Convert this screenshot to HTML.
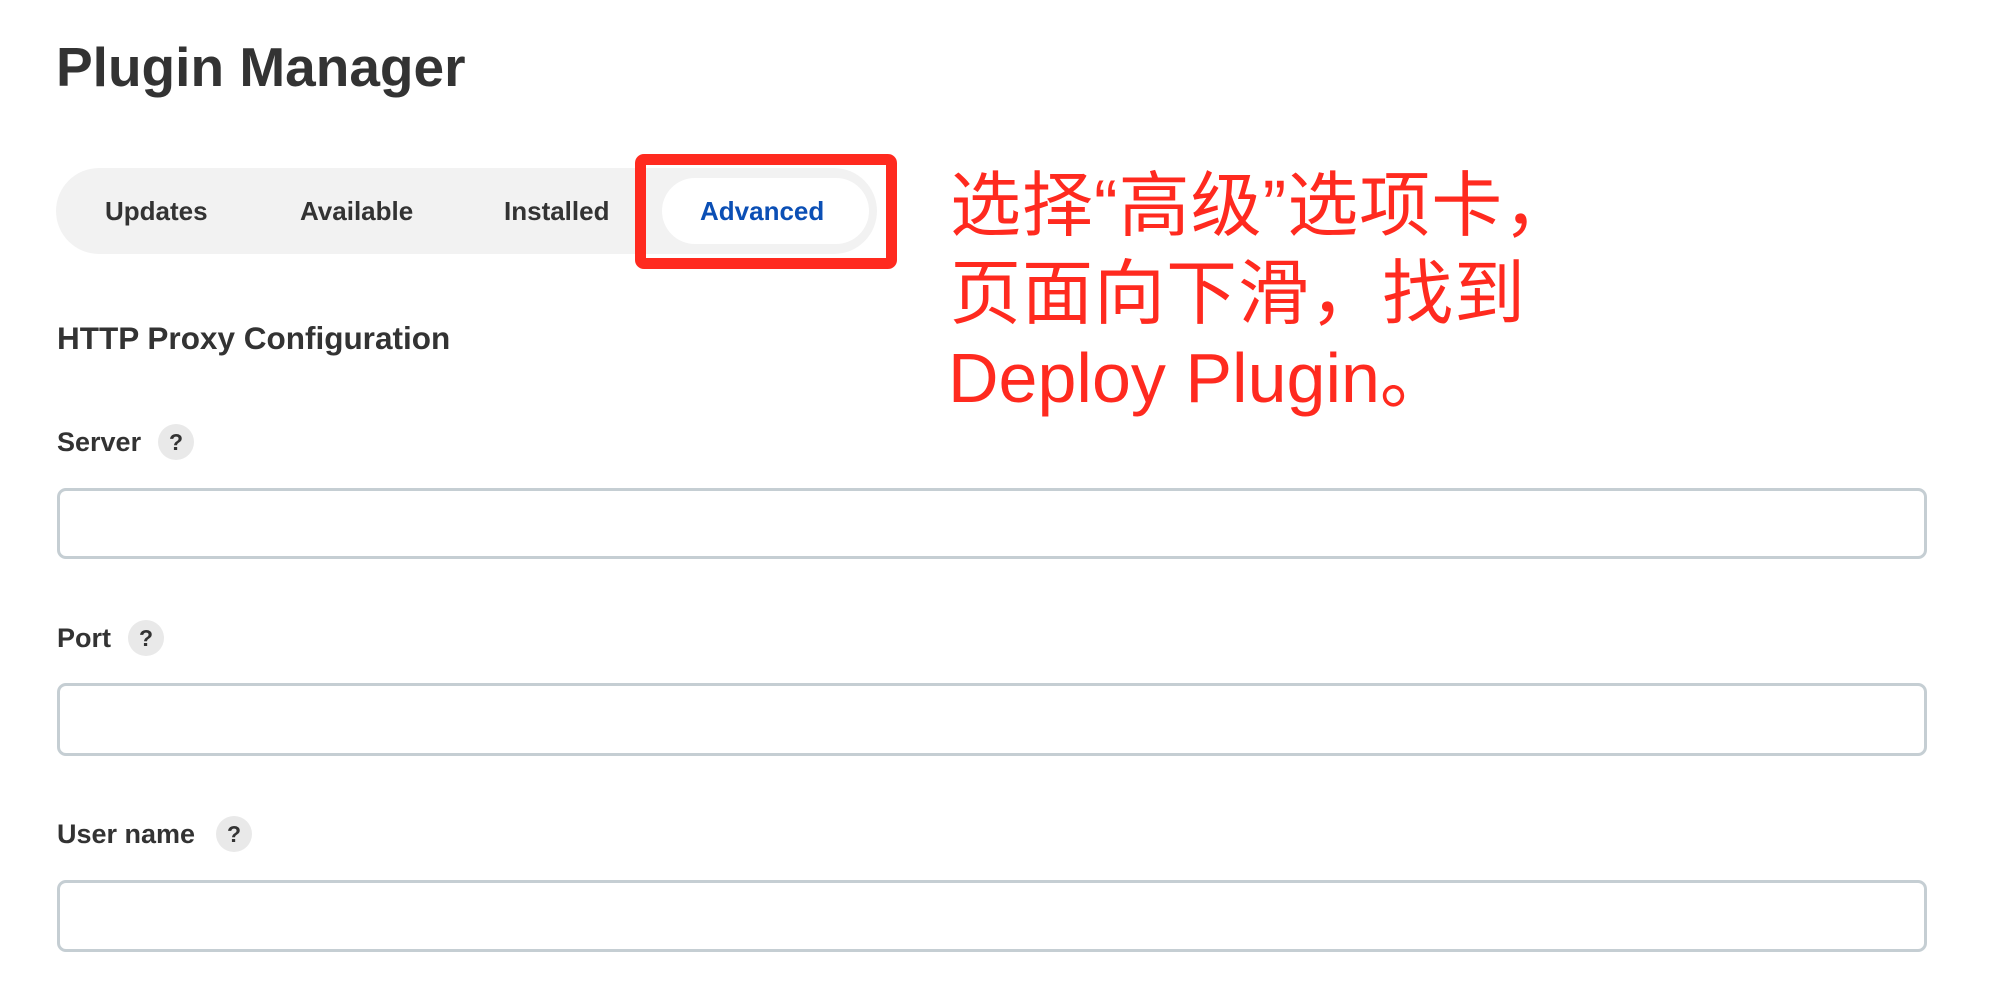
<!DOCTYPE html>
<html><head><meta charset="utf-8"><style>
body{margin:0;width:1990px;height:986px;background:#fff;position:relative;overflow:hidden;font-family:"Liberation Sans",Arial,sans-serif;color:#333;}
.a{position:absolute;white-space:nowrap;}
.b{font-weight:bold;}
.q{position:absolute;width:36px;height:36px;border-radius:50%;background:#e9e9e9;color:#333;font-weight:bold;font-size:23px;line-height:36px;text-align:center;}
.in{position:absolute;left:57px;width:1870px;border:3px solid #c5ced3;border-radius:9px;box-sizing:border-box;}
.r{color:#ff2a1f;font-family:"Liberation Sans","Noto Sans CJK SC",sans-serif;font-size:71px;line-height:88px;letter-spacing:1px;}
</style></head><body>
<div class="a b" style="left:56px;top:35px;font-size:55px;">Plugin Manager</div>
<div class="a" style="left:56px;top:168px;width:821px;height:86px;border-radius:43px;background:#f2f2f2;"></div>
<div class="a" style="left:662px;top:178px;width:207px;height:66px;border-radius:33px;background:#fff;"></div>
<div class="a b" style="left:105px;top:196px;font-size:26px;">Updates</div>
<div class="a b" style="left:300px;top:196px;font-size:26px;">Available</div>
<div class="a b" style="left:504px;top:196px;font-size:26px;">Installed</div>
<div class="a b" style="left:700px;top:196px;font-size:26px;color:#0b4fb5;">Advanced</div>
<div class="a" style="left:635px;top:154px;width:262px;height:115px;border:11px solid #ff2a1f;border-radius:9px;box-sizing:border-box;"></div>
<div class="a r" style="left:950px;top:163px;">选择“高级”选项卡，</div>
<div class="a r" style="left:950px;top:251px;">页面向下滑，找到</div>
<div class="a r" style="left:948px;top:334px;font-size:70px;letter-spacing:0;">Deploy Plugin。</div>
<div class="a b" style="left:57px;top:320px;font-size:31.5px;">HTTP Proxy Configuration</div>
<div class="a b" style="left:57px;top:427px;font-size:27px;">Server</div>
<div class="q" style="left:158px;top:424px;">?</div>
<div class="in" style="top:488px;height:71px;"></div>
<div class="a b" style="left:57px;top:623px;font-size:27px;">Port</div>
<div class="q" style="left:128px;top:620px;">?</div>
<div class="in" style="top:683px;height:73px;"></div>
<div class="a b" style="left:57px;top:819px;font-size:27px;">User name</div>
<div class="q" style="left:216px;top:816px;">?</div>
<div class="in" style="top:880px;height:72px;"></div>
</body></html>
